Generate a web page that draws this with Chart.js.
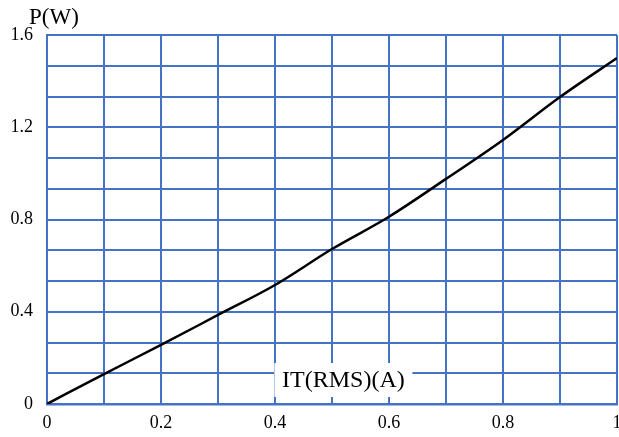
<!DOCTYPE html>
<html>
<head>
<meta charset="utf-8">
<script src="https://cdn.jsdelivr.net/npm/chart.js@4"></script>
<style>
html,body{margin:0;padding:0;background:#fff;}
#wrap{width:619px;height:437px;}
</style>
</head>
<body>
<div id="wrap"><canvas id="powerChart"></canvas></div>
<script>
/* DATA */
const currents=[0,0.1,0.2,0.3,0.4,0.5,0.6,0.7,0.8,0.9,1];
const powers=[0,0.13,0.256,0.386,0.516,0.672,0.812,0.976,1.145,1.331,1.5];
const xTicks=[0,0.1,0.2,0.3,0.4,0.5,0.6,0.7,0.8,0.9,1];
const yTicks=[0,0.4/3,0.8/3,0.4,1.6/3,2/3,0.8,2.8/3,3.2/3,1.2,4/3,4.4/3,1.6];
const yLabels=["0","","","0.4","","","0.8","","","1.2","","","1.6"];
const xLabels=["0","","0.2","","0.4","","0.6","","0.8","","1"];

const blue="#4472C4";
const serif="'Liberation Serif','Times New Roman',serif";

/* AXIS TITLES */
const axisText={
    id:"axisText",
    beforeDatasetsDraw(chart){
        let ctx=chart.ctx;
        let x=chart.scales.x, y=chart.scales.y;
        ctx.save();
        ctx.font="24px "+serif;
        let cx=x.getPixelForValue(0.52);
        let cy=y.getPixelForValue(0.104);
        ctx.fillStyle="#fff";
        ctx.fillRect(cx-69,cy-17,138,34);
        ctx.fillStyle="#000";
        ctx.textAlign="center";
        ctx.textBaseline="middle";
        ctx.fillText("IT(RMS)(A)",cx,cy+1);
        ctx.font="23px "+serif;
        ctx.textAlign="left";
        ctx.fillText("P(W)",29,18);
        ctx.restore();
    }
};

new Chart(
document.getElementById("powerChart"),
{
    type:"line",
    data:{
        datasets:[{
            data:currents.map((c,i)=>({x:c,y:powers[i]})),
            borderColor:"#000",
            borderWidth:2.5,
            pointRadius:0,
            cubicInterpolationMode:"monotone",
            fill:false
        }]
    },
    options:{
        responsive:true,
        maintainAspectRatio:false,
        animation:false,
        layout:{padding:{top:35,left:0,right:0,bottom:0}},
        plugins:{legend:{display:false},tooltip:{enabled:false}},
        scales:{
            x:{
                type:"linear",
                min:0,max:1,
                afterBuildTicks(s){ s.ticks=xTicks.map(v=>({value:v})); },
                afterFit(s){ s.paddingRight=2; s.height=33; },
                grid:{color:blue,lineWidth:2,drawTicks:false},
                border:{color:blue,width:2.5},
                ticks:{
                    color:"#000",
                    font:{family:serif,size:18},
                    padding:8,
                    maxRotation:0,
                    autoSkip:false,
                    callback:(v,i)=>xLabels[i]
                }
            },
            y:{
                min:0,max:1.6,
                afterBuildTicks(s){ s.ticks=yTicks.map(v=>({value:v})); },
                afterFit(s){ s.width=47; },
                grid:{color:blue,lineWidth:2,drawTicks:false},
                border:{color:blue,width:2},
                ticks:{
                    color:"#000",
                    font:{family:serif,size:18},
                    padding:14,
                    autoSkip:false,
                    callback:(v,i)=>yLabels[i]
                }
            }
        }
    },
    plugins:[axisText]
});
</script>
</body>
</html>
